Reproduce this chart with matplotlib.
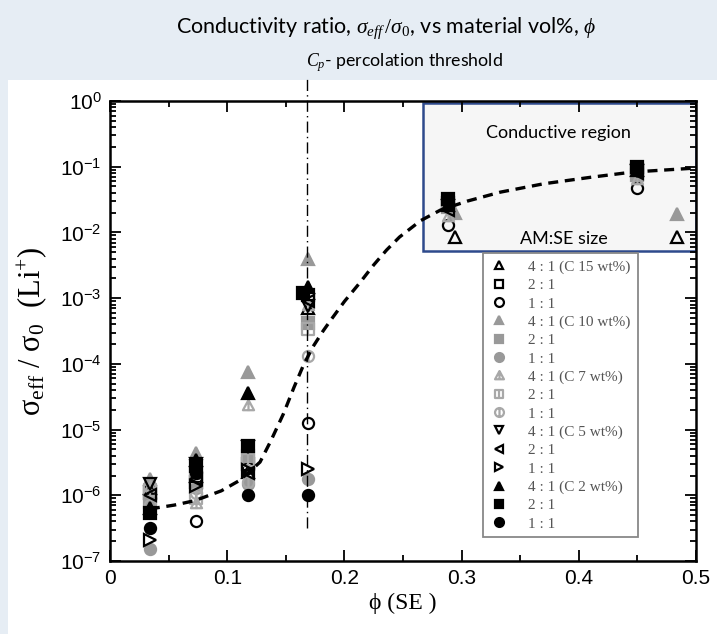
import matplotlib
matplotlib.use("Agg")
from matplotlib import pyplot as plt
from matplotlib.path import Path
from matplotlib.patches import Rectangle
from matplotlib.ticker import LogLocator, FixedLocator, FuncFormatter, NullFormatter

plt.rcParams['font.family'] = ['Liberation Sans', 'DejaVu Sans']
plt.rcParams['mathtext.fontset'] = 'custom'
plt.rcParams['mathtext.rm'] = 'Liberation Serif'
plt.rcParams['mathtext.it'] = 'Liberation Serif:italic'

# volume fraction of SE at each cluster
phi4 = [0.034, 0.073, 0.118, 0.169]
phi6 = [0.034, 0.073, 0.118, 0.169, 0.288, 0.45]
phi_out = [0.034, 0.073, 0.118, 0.169, 0.294, 0.484]
phi_c2sq = [0.034, 0.073, 0.118, 0.165, 0.288, 0.45]

# C 15 wt%
c15_41 = [1.3e-6, 2.0e-6, 2.3e-6, 7.0e-4, 8.5e-3, 8.5e-3]
c15_21 = [1.1e-6, 1.6e-6, 3.0e-6, 1.1e-3, 0.028, 0.09]
c15_11 = [9.0e-7, 4.1e-7, 2.6e-6, 1.26e-5, 0.013, 0.047]
# C 10 wt%
c10_41 = [1.8e-6, 4.4e-6, 7.5e-5, 4.0e-3, 0.020, 0.019]
c10_21 = [8.0e-7, 2.2e-6, 4.0e-6, 4.2e-4, 0.024, 0.075]
c10_11 = [1.5e-7, 1.3e-6, 1.5e-6, 1.8e-6]
# C 7 wt%
c7_41 = [1.4e-6, 7.5e-7, 2.4e-5, 8.0e-4, 0.018, 0.065]
c7_21 = [1.2e-6, 9.0e-7, 3.5e-6, 3.4e-4]
c7_11 = [7.0e-7, 1.1e-6, 1.6e-6, 1.3e-4]
# C 5 wt%
c5_41 = [1.5e-6, 3.0e-6, 5.5e-6, 7.5e-4, 0.025, 0.085]
c5_21 = [1.0e-6, 1.8e-6, 2.2e-6, 9.0e-4, 0.022, 0.08]
c5_11 = [2.1e-7, 1.4e-6, 2.4e-6, 2.5e-6]
# C 2 wt%
c2_41 = [6.5e-7, 3.4e-6, 3.6e-5, 1.5e-3, 0.026, 0.09]
c2_21 = [5.3e-7, 2.8e-6, 5.7e-6, 1.2e-3, 0.032, 0.10]
c2_11 = [3.2e-7, 2.2e-6, 1.0e-6, 1.0e-6]

# dashed guide curve
curve_phi = [0.034, 0.055, 0.0725, 0.095, 0.110, 0.118, 0.128, 0.137, 0.148,
             0.157, 0.165, 0.173, 0.182, 0.189, 0.200, 0.213, 0.225, 0.236,
             0.247, 0.265, 0.282, 0.305, 0.333, 0.37, 0.41, 0.446, 0.498]
curve_ratio = [6.2e-7, 7.1e-7, 8.3e-7, 1.17e-6, 1.66e-6, 2.2e-6, 3.2e-6, 6.6e-6,
               1.74e-5, 4.4e-5, 9.5e-5, 1.8e-4, 3.2e-4, 4.8e-4, 8.9e-4, 1.7e-3,
               3.2e-3, 5.4e-3, 8.5e-3, 0.0151, 0.0219, 0.030, 0.041, 0.055,
               0.069, 0.083, 0.095]

cp_phi = 0.168

labels = ['4 : 1 (C 15 wt%)', '2 : 1', '1 : 1',
          '4 : 1 (C 10 wt%)', '2 : 1', '1 : 1',
          '4 : 1 (C 7 wt%)', '2 : 1', '1 : 1',
          '4 : 1 (C 5 wt%)', '2 : 1', '1 : 1',
          '4 : 1 (C 2 wt%)', '2 : 1', '1 : 1']


def barred(verts):
    base = Path(verts + [verts[0]], [Path.MOVETO] + [Path.LINETO] * (len(verts) - 1) + [Path.CLOSEPOLY])
    bar = Path([(0, -1), (0, 1)], [Path.MOVETO, Path.LINETO])
    return Path.make_compound_path(base, bar)


tri_bar = barred([(-1, -0.85), (1, -0.85), (0, 1)])
sq_bar = barred([(-1, -1), (1, -1), (1, 1), (-1, 1)])
circ_bar = Path.make_compound_path(Path.unit_circle(),
                                   Path([(0, -1), (0, 1)], [Path.MOVETO, Path.LINETO]))

gray = '#999999'
lgray = '#a8a8a8'

series = [
    (phi_out, c15_41, '^', 'k', 'none'),
    (phi6, c15_21, 's', 'k', 'none'),
    (phi6, c15_11, 'o', 'k', 'none'),
    (phi_out, c10_41, '^', gray, gray),
    (phi6, c10_21, 's', gray, gray),
    (phi4, c10_11, 'o', gray, gray),
    (phi6, c7_41, tri_bar, lgray, 'none'),
    (phi4, c7_21, sq_bar, lgray, 'none'),
    (phi4, c7_11, circ_bar, lgray, 'none'),
    (phi6, c5_41, 'v', 'k', 'none'),
    (phi6, c5_21, '<', 'k', 'none'),
    (phi4, c5_11, '>', 'k', 'none'),
    (phi6, c2_41, '^', 'k', 'k'),
    (phi_c2sq, c2_21, 's', 'k', 'k'),
    (phi4, c2_11, 'o', 'k', 'k'),
]

fig = plt.figure(figsize=(7.17, 6.34), dpi=100, facecolor='#e6edf4')
fig.patches.append(Rectangle((8 / 717, 0), 1, 1 - 80 / 634, transform=fig.transFigure,
                             facecolor='white', edgecolor='none', zorder=-1))
ax = fig.add_axes([110 / 717, 1 - 561 / 634, 586 / 717, 460 / 634])
ax.set_zorder(1)

ax.add_patch(Rectangle((0.534, 0.675), 0.466, 0.321, transform=ax.transAxes,
                       facecolor='#f6f6f6', edgecolor='#2e4a8c', lw=1.8, zorder=1.5))
ax.text(0.765, 0.93, 'Conductive region', transform=ax.transAxes, ha='center', va='center',
        fontsize=13, family=['Lato', 'DejaVu Sans'], zorder=2)
ax.text(0.775, 0.70, 'AM:SE size', transform=ax.transAxes, ha='center', va='center',
        fontsize=13, family=['Lato', 'DejaVu Sans'], zorder=2)

handles = []
for (x, y, m, ec, fc), lab in zip(series, labels):
    h, = ax.plot(x, y, ls='none', marker=m, ms=8, mec=ec, mfc=fc, mew=1.6,
                 label=lab, zorder=3)
    handles.append(h)

ax.plot(curve_phi, curve_ratio, 'k', lw=2.4, dashes=(3, 2), zorder=4)
ax.plot([cp_phi, cp_phi], [3.2e-7, 10 ** 0.35], color='k', lw=1,
        ls=(0, (8, 3, 1, 3)), clip_on=False, zorder=4)

ax.set_yscale('log')
ax.set_xlim(0, 0.5)
ax.set_ylim(1e-7, 1)
ax.xaxis.set_major_locator(FixedLocator([0, 0.1, 0.2, 0.3, 0.4, 0.5]))
ax.xaxis.set_minor_locator(FixedLocator([0.05, 0.15, 0.25, 0.35, 0.45]))
ax.xaxis.set_major_formatter(FuncFormatter(lambda v, p: '%g' % v))
ax.yaxis.set_major_locator(LogLocator(base=10, numticks=20))
ax.yaxis.set_minor_locator(LogLocator(base=10, subs=range(2, 10), numticks=20))
ax.yaxis.set_minor_formatter(NullFormatter())
ax.tick_params(which='both', direction='in', top=True, right=True, width=1.3, labelsize=15)
ax.tick_params(which='major', length=8, pad=6)
ax.tick_params(which='minor', length=4)
for s in ax.spines.values():
    s.set_linewidth(1.8)

ax.set_ylabel('σ$_{\\mathrm{eff}}$ / σ$_0$  (Li$^{+}$)', fontsize=22,
              family=['Liberation Serif', 'DejaVu Serif'], labelpad=8)
ax.set_xlabel('ϕ (SE )', fontsize=17, family=['Liberation Serif', 'DejaVu Serif'], labelpad=3)

leg = ax.legend(handles=handles, loc='upper left', bbox_to_anchor=(0.637, 0.669),
                borderaxespad=0, fancybox=False, framealpha=1, edgecolor='#888888',
                prop={'family': ['Liberation Serif', 'DejaVu Serif'], 'size': 11},
                labelspacing=0.3, handlelength=1.2, handletextpad=1.3, markerscale=0.8,
                borderpad=0.45)
leg.get_frame().set_linewidth(1.3)
for t in leg.get_texts():
    t.set_color('#555555')
leg.set_zorder(5)

fig.text(0.538, 1 - 28 / 634, 'Conductivity ratio, $\\sigma_{eff}\\,/\\sigma_0$, vs material vol%, $\\phi$',
         ha='center', va='center', fontsize=15.5, family=['Lato', 'DejaVu Sans'])
fig.text(0.564, 1 - 63 / 634, '$C_p$- percolation threshold',
         ha='center', va='center', fontsize=12.8, family=['Lato', 'DejaVu Sans'])

fig.savefig('out.png', dpi=100, facecolor=fig.get_facecolor())
